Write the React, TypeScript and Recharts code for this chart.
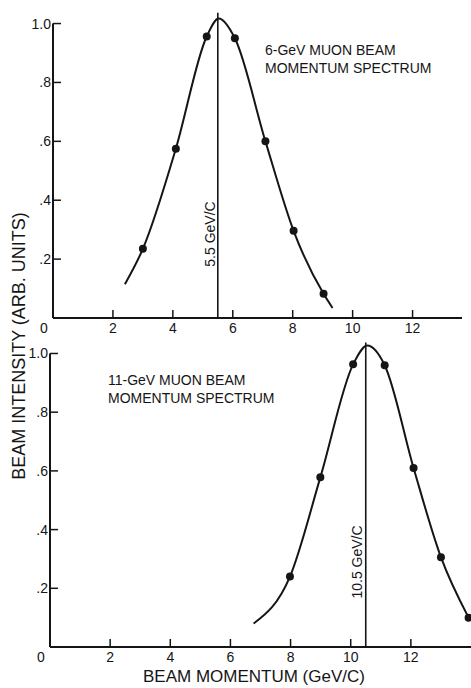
import React from 'react';
import { ComposedChart, Line, Scatter, XAxis, YAxis, ReferenceLine } from 'recharts';

const topPointX = [3, 4.1, 5.13, 6.07, 7.09, 8.03, 9.03];
const topPointY = [0.235, 0.575, 0.956, 0.95, 0.6, 0.296, 0.082];
const topCurveX = [2.4, 3, 4.1, 5.13, 5.53, 6.07, 7.09, 8.03, 9.03, 9.33];
const topCurveY = [0.115, 0.235, 0.575, 0.956, 1.017, 0.95, 0.6, 0.296, 0.082, 0.034];
const topPeak = 5.5;

// 11-GeV beam
const botPointX = [7.98, 8.99, 10.08, 11.13, 12.09, 13.0, 13.92];
const botPointY = [0.24, 0.578, 0.963, 0.96, 0.61, 0.306, 0.1];
const botCurveX = [6.77, 7.98, 8.99, 10.08, 10.55, 11.13, 12.09, 13.0, 13.92];
const botCurveY = [0.08, 0.24, 0.578, 0.963, 1.027, 0.96, 0.61, 0.306, 0.1];
const botPeak = 10.5;

const xTicks = [0, 2, 4, 6, 8, 10, 12];
const yTicks = [0.2, 0.4, 0.6, 0.8, 1.0];

const zip = (xs: number[], ys: number[]) => xs.map((x, i) => ({ x, y: ys[i] }));

const INK = '#151515';
const FONT = '"Liberation Sans", Arial, sans-serif';

const XTick = ({ x, y, payload }: any) => {
  const v = payload.value;
  return (
    <g>
      {v !== 0 && <line x1={x} x2={x} y1={y} y2={y - 8} stroke={INK} strokeWidth={1.5} />}
      <text x={v === 0 ? x - 9 : x} y={y + 15} textAnchor="middle" fontSize={14} fill={INK} fontFamily={FONT}>
        {String(v)}
      </text>
    </g>
  );
};

const YTick = ({ x, y, payload }: any) => {
  const v = payload.value;
  const label = v === 1 ? '1.0' : '.' + Math.round(v * 10);
  return (
    <g>
      <line x1={x} x2={x + 8} y1={y} y2={y} stroke={INK} strokeWidth={1.5} />
      <text x={x - 2} y={y + 5} textAnchor="end" fontSize={14} fill={INK} fontFamily={FONT}>
        {label}
      </text>
    </g>
  );
};

interface PanelProps {
  top: number;
  yAxisWidth: number;
  xMax: number;
  rightMargin: number;
  xAxisHeight: number;
  curve: { x: number; y: number }[];
  points: { x: number; y: number }[];
  peak: number;
}

const Panel = ({ top, yAxisWidth, xMax, rightMargin, xAxisHeight, curve, points, peak }: PanelProps) => (
  <div style={{ position: 'absolute', left: 0, top }}>
    <ComposedChart width={471} height={340} margin={{ top: 0, right: rightMargin, left: 0, bottom: 0 }}>
      <XAxis
        type="number"
        dataKey="x"
        domain={[0, xMax]}
        ticks={xTicks}
        interval={0}
        height={xAxisHeight}
        tickSize={0}
        tickMargin={0}
        tickLine={false}
        axisLine={{ stroke: INK, strokeWidth: 2 }}
        tick={<XTick />}
        allowDataOverflow
      />
      <YAxis
        type="number"
        dataKey="y"
        domain={[0, 1.08]}
        ticks={yTicks}
        interval={0}
        width={yAxisWidth}
        tickSize={0}
        tickMargin={0}
        tickLine={false}
        axisLine={false}
        tick={<YTick />}
      />
      <ReferenceLine segment={[{ x: 0, y: 0 }, { x: 0, y: 1 }]} stroke={INK} strokeWidth={2} ifOverflow="visible" />
      <ReferenceLine segment={[{ x: peak, y: 0 }, { x: peak, y: 1.037 }]} stroke={INK} strokeWidth={1.6} ifOverflow="visible" />
      <Line
        data={curve}
        dataKey="y"
        type="monotone"
        stroke={INK}
        strokeWidth={2}
        dot={false}
        activeDot={false}
        isAnimationActive={false}
      />
      <Scatter data={points} dataKey="y" fill={INK} shape={(p: any) => <circle cx={p.cx} cy={p.cy} r={4} fill={INK} />} isAnimationActive={false} />
    </ComposedChart>
  </div>
);

const App = () => (
  <div style={{ position: 'absolute', left: 0, top: 0, width: 471, height: 688, background: '#fff', overflow: 'hidden' }}>
    <Panel
      top={0}
      yAxisWidth={53}
      xMax={13.65}
      rightMargin={9}
      xAxisHeight={22}
      curve={zip(topCurveX, topCurveY)}
      points={zip(topPointX, topPointY)}
      peak={topPeak}
    />
    <Panel
      top={330}
      yAxisWidth={50}
      xMax={14}
      rightMargin={0}
      xAxisHeight={23}
      curve={zip(botCurveX, botCurveY)}
      points={zip(botPointX, botPointY)}
      peak={botPeak}
    />
    <svg width={471} height={688} style={{ position: 'absolute', left: 0, top: 0, pointerEvents: 'none' }}>
      <g fontFamily={FONT} fill={INK}>
        <text x={265} y={55} fontSize={14}>6-GeV MUON BEAM</text>
        <text x={265} y={73} fontSize={14}>MOMENTUM SPECTRUM</text>
        <text x={108} y={385} fontSize={14}>11-GeV MUON BEAM</text>
        <text x={108} y={403} fontSize={14}>MOMENTUM SPECTRUM</text>
        <text x={210} y={234} fontSize={14} textAnchor="middle" dominantBaseline="central" transform="rotate(-90 210 234)">
          5.5 GeV/C
        </text>
        <text x={357} y={562} fontSize={14} textAnchor="middle" dominantBaseline="central" transform="rotate(-90 357 562)">
          10.5 GeV/C
        </text>
        <text x={19} y={346} fontSize={18} textAnchor="middle" dominantBaseline="central" transform="rotate(-90 19 346)">
          BEAM INTENSITY (ARB. UNITS)
        </text>
        <text x={254} y={682} fontSize={17} textAnchor="middle">
          BEAM MOMENTUM (GeV/C)
        </text>
      </g>
    </svg>
  </div>
);

export default App;
